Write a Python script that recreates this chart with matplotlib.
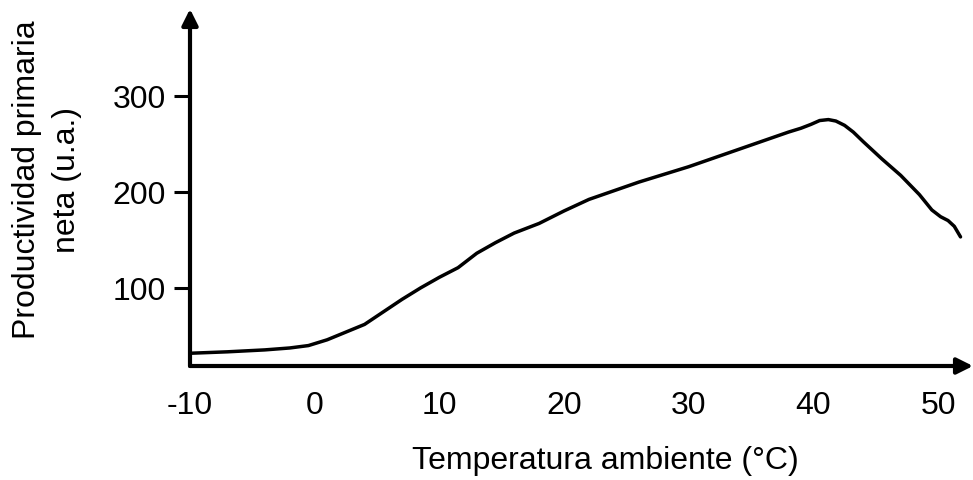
import matplotlib
matplotlib.use("Agg")

import matplotlib.pyplot as plt
import numpy as np

plt.rcParams["font.family"] = ["Liberation Sans", "DejaVu Sans"]

# temperature (°C) and net primary productivity (a.u.)
temp = [-10, -7, -4, -2, -0.5, 1, 2.5, 4, 5.5, 7, 8.5, 10, 11.5, 13, 14.5, 16,
        18, 20, 22, 24, 26, 28, 30, 32, 34, 36, 38, 39, 39.8, 40.5, 41.2, 41.8,
        42.5, 43.2, 44, 45.5, 47, 48.5, 49.5, 50.2, 50.8, 51.3, 51.8]
npp = [32, 33.5, 35.5, 37.5, 40, 46, 54, 62, 75, 88, 100, 111, 121, 136, 147, 157,
       167, 180, 192, 201, 210, 218, 226, 235, 244, 253, 262, 266, 270, 274, 275, 273.5,
       269, 262, 252, 234, 217, 197, 181, 174, 170, 164, 153]

xticks = [-10, 0, 10, 20, 30, 40, 50]
yticks = [100, 200, 300]

fig = plt.figure(figsize=(9.73, 4.81), dpi=100)
ax = fig.add_axes([190 / 973, 114 / 481, 783 / 973, 357 / 481])

ax.plot(temp, npp, color="black", lw=2.5, solid_capstyle="round",
        solid_joinstyle="round")

ax.set_xlim(-10, 52.8)
ax.set_ylim(18.75, 390)

for s in ax.spines.values():
    s.set_visible(False)

# axes drawn as arrows
arrow = dict(arrowstyle="-|>", lw=3, color="black", mutation_scale=24,
             shrinkA=0, shrinkB=0)
ax.annotate("", xy=(1, 0), xytext=(0, 0), xycoords="axes fraction", arrowprops=arrow)
ax.annotate("", xy=(0, 1), xytext=(0, 0), xycoords="axes fraction", arrowprops=arrow)

ax.set_xticks(xticks)
ax.set_xticklabels([str(t) for t in xticks])
ax.set_yticks(yticks)
ax.set_yticklabels([str(t) for t in yticks])
ax.tick_params(axis="x", length=0, pad=17, labelsize=23)
ax.tick_params(axis="y", length=11.5, width=2.2, direction="out", pad=6, labelsize=23)

fig.text(605 / 973, 1 - 461 / 481, "Temperatura ambiente (°C)", fontsize=23,
         ha="center", va="center")
fig.text(47 / 973, 1 - 180 / 481, "Productividad primaria\nneta (u.a.)", fontsize=23,
         ha="center", va="center", rotation=90, multialignment="center",
         linespacing=1.45)

plt.savefig("out.png", dpi=100)
